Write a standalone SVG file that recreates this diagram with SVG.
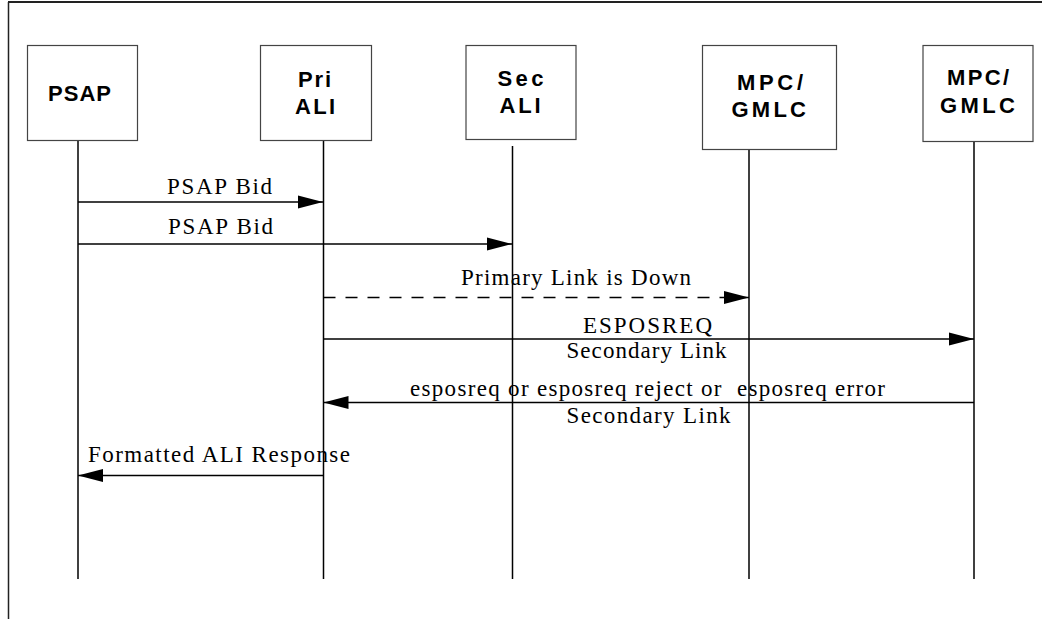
<svg xmlns="http://www.w3.org/2000/svg" width="1042" height="619" viewBox="0 0 1042 619">
<style>
.box{fill:#fff;stroke:#444;stroke-width:1.2}
.life{stroke:#000;stroke-width:1.5;fill:none}
.msg{stroke:#000;stroke-width:1.5;fill:none;marker-end:url(#ah)}
.dash{stroke-dasharray:12 10}
.nl{font-family:"Liberation Sans",Arial,sans-serif;font-weight:bold;font-size:22px;fill:#000}
.ml{font-family:"Liberation Serif","Times New Roman",serif;font-size:23px;fill:#000}
</style>
<defs>
<marker id="ah" markerUnits="userSpaceOnUse" markerWidth="26" markerHeight="14" refX="25" refY="7" orient="auto">
<path d="M0,0.5 L25,7 L0,13.5 z" fill="#000"/>
</marker>
</defs>
<rect width="1042" height="619" fill="#fff"/>
<g id="frame">
<line x1="8.5" y1="2" x2="8.5" y2="619" stroke="#222" stroke-width="1.5"/>
<line x1="8" y1="2" x2="1042" y2="2" stroke="#222" stroke-width="2"/>
</g>
<g id="lifelines">
<line class="life" x1="78" y1="141" x2="78" y2="579"/>
<line class="life" x1="323.5" y1="140" x2="323.5" y2="579"/>
<line class="life" x1="512.5" y1="146" x2="512.5" y2="579"/>
<line class="life" x1="749" y1="149" x2="749" y2="579"/>
<line class="life" x1="974" y1="141" x2="974" y2="579"/>
</g>
<g id="node-psap">
<rect class="box" x="27.5" y="45.5" width="110" height="95"/>
<text class="nl" x="48" y="100.5" textLength="63" lengthAdjust="spacing">PSAP</text>
</g>
<g id="node-pri-ali">
<rect class="box" x="260.5" y="45.5" width="111" height="95"/>
<text class="nl" x="298" y="87" textLength="33" lengthAdjust="spacing">Pri</text>
<text class="nl" x="295" y="113.5" textLength="40" lengthAdjust="spacing">ALI</text>
</g>
<g id="node-sec-ali">
<rect class="box" x="466" y="45.5" width="110" height="94"/>
<text class="nl" x="497.5" y="85.5" textLength="46" lengthAdjust="spacing">Sec</text>
<text class="nl" x="499.5" y="112.5" textLength="41" lengthAdjust="spacing">ALI</text>
</g>
<g id="node-mpc1">
<rect class="box" x="702.5" y="45.5" width="134" height="104"/>
<text class="nl" x="737" y="90" textLength="66" lengthAdjust="spacing">MPC/</text>
<text class="nl" x="731.5" y="117" textLength="74.5" lengthAdjust="spacing">GMLC</text>
</g>
<g id="node-mpc2">
<rect class="box" x="923" y="45.5" width="110" height="96"/>
<text class="nl" x="947" y="85" textLength="62" lengthAdjust="spacing">MPC/</text>
<text class="nl" x="940" y="112.5" textLength="75" lengthAdjust="spacing">GMLC</text>
</g>
<g id="connectors">
<line class="msg" x1="78" y1="202" x2="323" y2="202"/>
<text class="ml" x="167" y="193.5" textLength="105" lengthAdjust="spacing">PSAP Bid</text>
<line class="msg" x1="78" y1="244" x2="512" y2="244"/>
<text class="ml" x="168" y="234" textLength="105" lengthAdjust="spacing">PSAP Bid</text>
<line class="msg dash" x1="323.5" y1="297.5" x2="749" y2="297.5"/>
<text class="ml" x="461" y="284.5" textLength="230" lengthAdjust="spacing">Primary Link is Down</text>
<line class="msg" x1="323.5" y1="339" x2="974" y2="339"/>
<text class="ml" x="583" y="332.5" textLength="129" lengthAdjust="spacing">ESPOSREQ</text>
<text class="ml" x="566.5" y="357.5" textLength="160" lengthAdjust="spacing">Secondary Link</text>
<line class="msg" x1="974" y1="402.5" x2="323.5" y2="402.5"/>
<text class="ml" x="410" y="395.5" textLength="475" lengthAdjust="spacing" xml:space="preserve">esposreq or esposreq reject or  esposreq error</text>
<text class="ml" x="566.5" y="423" textLength="164" lengthAdjust="spacing">Secondary Link</text>
<line class="msg" x1="323.5" y1="475.5" x2="78" y2="475.5"/>
<text class="ml" x="88" y="461.5" textLength="262" lengthAdjust="spacing">Formatted ALI Response</text>
</g>
</svg>
